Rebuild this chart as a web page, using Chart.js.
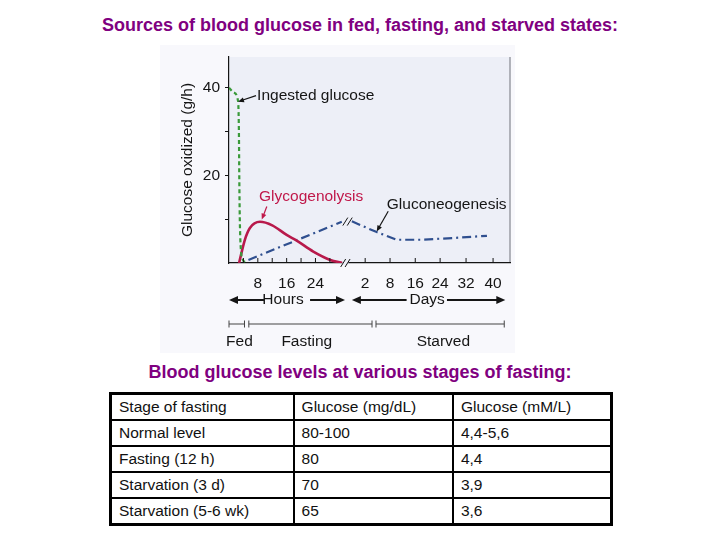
<!DOCTYPE html>
<html>
<head>
<meta charset="utf-8">
<script src="https://cdn.jsdelivr.net/npm/chart.js@4.4.0/dist/chart.umd.min.js"></script>
<style>
  body { margin: 0; width: 720px; height: 540px; background: #fff; position: relative; overflow: hidden;
         font-family: "Liberation Sans", Arial, sans-serif; }
  .heading { position: absolute; left: 0; width: 720px; text-align: center; color: #800080;
             font-weight: bold; font-size: 18px; }
  #t1 { top: 15px; }
  #t2 { top: 362px; }
  #wrap { position: absolute; left: 150px; top: 40px; width: 370px; height: 315px; }
  table { position: absolute; left: 109px; top: 392px; width: 504px; border-collapse: collapse;
          border: 3px solid #000; font-size: 15.5px; color: #111; }
  td { border: 2px solid #000; height: 22px; padding: 1px 7px; white-space: nowrap; }
</style>
</head>
<body>
<div class="heading" id="t1">Sources of blood glucose in fed, fasting, and starved states:</div>
<div id="wrap"><canvas id="chart"></canvas></div>
<div class="heading" id="t2">Blood glucose levels at various stages of fasting:</div>
<table id="tbl"></table>

<script>
// x axis is in "hour units": hours run 0..32, then the axis breaks into days
const hourTicks = [4, 8, 12, 16, 20, 24, 28];
const hourLabels = ['', '8', '', '16', '', '24', ''];
const dayTicks = [37.8, 44.7, 51.7, 58.6, 65.8, 73.3];
const dayLabels = ['2', '8', '16', '24', '32', '40'];
const yTicks = [10, 20, 30, 40];
const yLabels = ['', '20', '', '40'];

// glucose oxidized (g/h)
const ingestedX = [0, 1.3, 2.5, 2.75, 2.85, 3.0, 3.3, 3.8, 4.4];
const ingestedY = [40, 38.9, 37, 30, 20, 10, 3, 0.8, 0.2];
const glycoX = [2.8, 4.4, 5.8, 8.6, 12, 16, 18.8, 23.4, 28.1, 31.5];
const glycoY = [0, 5.3, 8.0, 9.4, 8.6, 6.4, 5.1, 2.6, 0.7, 0];
const gluconeoX = [5.4, 31.3, 32.7, 34.1, 41.0, 46.6, 53.1, 62.3, 71.6];
const gluconeoY = [0.7, 9.4, null, 9.5, 7.05, 5.3, 5.3, 5.7, 6.2];

// table
const tableHead = ['Stage of fasting', 'Glucose (mg/dL)', 'Glucose (mM/L)'];
const stages = ['Normal level', 'Fasting (12 h)', 'Starvation (3 d)', 'Starvation (5-6 wk)'];
const mgdl = ['80-100', '80', '70', '65'];
const mml = ['4,4-5,6', '4,4', '3,9', '3,6'];

const xTicks = hourTicks.concat(dayTicks);
const xLabels = hourLabels.concat(dayLabels);
const FONT = '"Liberation Sans", Arial, sans-serif';
const INK = '#151515';

function pts(xs, ys) {
  return xs.map((x, i) => ({ x: x, y: ys[i] }));
}

// table rows
const tbl = document.getElementById('tbl');
const widths = [170, 146, 145];
[tableHead].concat(stages.map((s, i) => [s, mgdl[i], mml[i]])).forEach(row => {
  const tr = document.createElement('tr');
  row.forEach((c, i) => {
    const td = document.createElement('td');
    td.textContent = c;
    td.style.width = widths[i] + 'px';
    tr.appendChild(td);
  });
  tbl.appendChild(tr);
});

function arrow(ctx, x1, y1, x2, y2, len, half) {
  const a = Math.atan2(y2 - y1, x2 - x1);
  ctx.beginPath();
  ctx.moveTo(x1, y1);
  ctx.lineTo(x2 - Math.cos(a) * len * 0.6, y2 - Math.sin(a) * len * 0.6);
  ctx.stroke();
  ctx.beginPath();
  ctx.moveTo(x2, y2);
  ctx.lineTo(x2 - Math.cos(a) * len - Math.sin(a) * half, y2 - Math.sin(a) * len + Math.cos(a) * half);
  ctx.lineTo(x2 - Math.cos(a) * len + Math.sin(a) * half, y2 - Math.sin(a) * len - Math.cos(a) * half);
  ctx.closePath();
  ctx.fill();
}

const backdrop = {
  id: 'backdrop',
  beforeDraw(chart) {
    const { ctx, chartArea: ca } = chart;
    ctx.save();
    ctx.fillStyle = '#f8f8fc';
    ctx.fillRect(10, 5, 355, 308);
    ctx.fillStyle = '#edeff7';
    ctx.fillRect(ca.left, ca.top, ca.right - ca.left, ca.bottom - ca.top);
    ctx.strokeStyle = '#9a9ca4';
    ctx.lineWidth = 1.5;
    ctx.beginPath();
    ctx.moveTo(ca.right, ca.top);
    ctx.lineTo(ca.right, ca.bottom);
    ctx.stroke();
    ctx.restore();
  }
};

const extras = {
  id: 'extras',
  afterDraw(chart) {
    const { ctx, chartArea: ca } = chart;
    const sx = chart.scales.x, sy = chart.scales.y;
    const X = v => sx.getPixelForValue(v);
    const Y = v => sy.getPixelForValue(v);
    ctx.save();
    ctx.strokeStyle = INK;
    ctx.fillStyle = INK;

    // inward x ticks
    ctx.lineWidth = 1;
    xTicks.forEach(v => {
      ctx.beginPath();
      ctx.moveTo(X(v), ca.bottom);
      ctx.lineTo(X(v), ca.bottom - 5);
      ctx.stroke();
    });

    // axis break marks
    function breakMark(x, y, bg) {
      ctx.save();
      ctx.fillStyle = bg;
      ctx.fillRect(x - 3, y - 2, 6, 4);
      ctx.lineWidth = 1;
      ctx.strokeStyle = INK;
      [-2.2, 2.2].forEach(d => {
        ctx.beginPath();
        ctx.moveTo(x + d - 2.5, y + 4);
        ctx.lineTo(x + d + 2.5, y - 4);
        ctx.stroke();
      });
      ctx.restore();
    }
    breakMark(X(32.3), ca.bottom, '#edeff7');
    breakMark(X(32.9), Y(9.45), '#edeff7');

    // labels with pointers
    ctx.font = '15.5px ' + FONT;
    ctx.textBaseline = 'middle';
    ctx.textAlign = 'left';
    ctx.fillText('Ingested glucose', X(7.8), Y(38.2));
    ctx.lineWidth = 1.2;
    arrow(ctx, X(7.5), Y(38.2), X(2.5), Y(36.8), 6, 2.5);

    ctx.fillStyle = '#c0184a';
    ctx.strokeStyle = '#c0184a';
    ctx.textAlign = 'center';
    ctx.fillText('Glycogenolysis', X(22.8), Y(15.2));
    arrow(ctx, X(10.5), Y(12.9), X(9.1), Y(9.9), 6, 2.5);

    ctx.fillStyle = INK;
    ctx.strokeStyle = INK;
    ctx.textAlign = 'left';
    ctx.fillText('Gluconeogenesis', X(43.8), Y(13.3));
    arrow(ctx, X(44.2), Y(11.8), X(41.0), Y(7.2), 6, 2.5);

    // Hours / Days spans
    const yA = ca.bottom + 37;
    ctx.lineWidth = 2;
    ctx.textAlign = 'center';
    ctx.fillText('Hours', X(15), yA);
    arrow(ctx, X(9.7), yA, X(0), yA, 9, 4);
    arrow(ctx, X(22.5), yA, X(32.2), yA, 9, 4);
    ctx.fillText('Days', X(55), yA);
    arrow(ctx, X(49.3), yA, X(34.1), yA, 9, 4);
    arrow(ctx, X(60.5), yA, X(76.7), yA, 9, 4);

    // Fed / Fasting / Starved brackets
    const yB = ca.bottom + 61;
    ctx.lineWidth = 1;
    ctx.strokeStyle = '#444';
    [[0, 4.3], [5.5, 39.7], [40.8, 76.4]].forEach(([a, b]) => {
      ctx.beginPath();
      ctx.moveTo(X(a), yB); ctx.lineTo(X(b), yB);
      ctx.moveTo(X(a), yB - 3.5); ctx.lineTo(X(a), yB + 3.5);
      ctx.moveTo(X(b), yB - 3.5); ctx.lineTo(X(b), yB + 3.5);
      ctx.stroke();
    });
    ctx.fillText('Fed', X(2.9), ca.bottom + 79);
    ctx.fillText('Fasting', X(21.6), ca.bottom + 79);
    ctx.fillText('Starved', X(59.5), ca.bottom + 79);
    ctx.restore();
  }
};

new Chart(document.getElementById('chart'), {
  type: 'line',
  data: {
    datasets: [
      { label: 'Ingested glucose', data: pts(ingestedX, ingestedY), borderColor: '#3a9a3a',
        borderWidth: 2.2, borderDash: [4, 3], cubicInterpolationMode: 'monotone', pointRadius: 0 },
      { label: 'Glycogenolysis', data: pts(glycoX, glycoY), borderColor: '#b8194b',
        borderWidth: 2.6, cubicInterpolationMode: 'monotone', pointRadius: 0 },
      { label: 'Gluconeogenesis', data: pts(gluconeoX, gluconeoY), borderColor: '#2f4f8f',
        borderWidth: 2.2, borderDash: [9, 4, 2, 4], tension: 0, spanGaps: false, pointRadius: 0 }
    ]
  },
  options: {
    responsive: true,
    maintainAspectRatio: false,
    animation: false,
    layout: { padding: { top: 17, right: 10, left: 0, bottom: 0 } },
    plugins: { legend: { display: false }, tooltip: { enabled: false } },
    scales: {
      x: {
        type: 'linear', min: 0, max: 78,
        afterBuildTicks: s => { s.ticks = xTicks.map(v => ({ value: v })); },
        afterFit: s => { s.height = 92; },
        grid: { display: false },
        border: { display: true, color: INK, width: 1.2 },
        ticks: { autoSkip: false, maxRotation: 0, padding: 3, color: INK,
                 font: { family: FONT, size: 15.5 },
                 callback: (v, i) => xLabels[i] }
      },
      y: {
        min: 0, max: 47,
        afterBuildTicks: s => { s.ticks = yTicks.map(v => ({ value: v })); },
        afterFit: s => { s.width = 79; },
        grid: { drawOnChartArea: false, tickLength: 4, color: INK },
        border: { display: true, color: INK, width: 1.2 },
        ticks: { padding: 5, color: INK, font: { family: FONT, size: 15.5 },
                 callback: (v, i) => yLabels[i] },
        title: { display: true, text: 'Glucose oxidized (g/h)', color: INK,
                 font: { family: FONT, size: 15.5 }, padding: { top: 28.7, bottom: 0 } }
      }
    }
  },
  plugins: [backdrop, extras]
});
</script>
</body>
</html>
